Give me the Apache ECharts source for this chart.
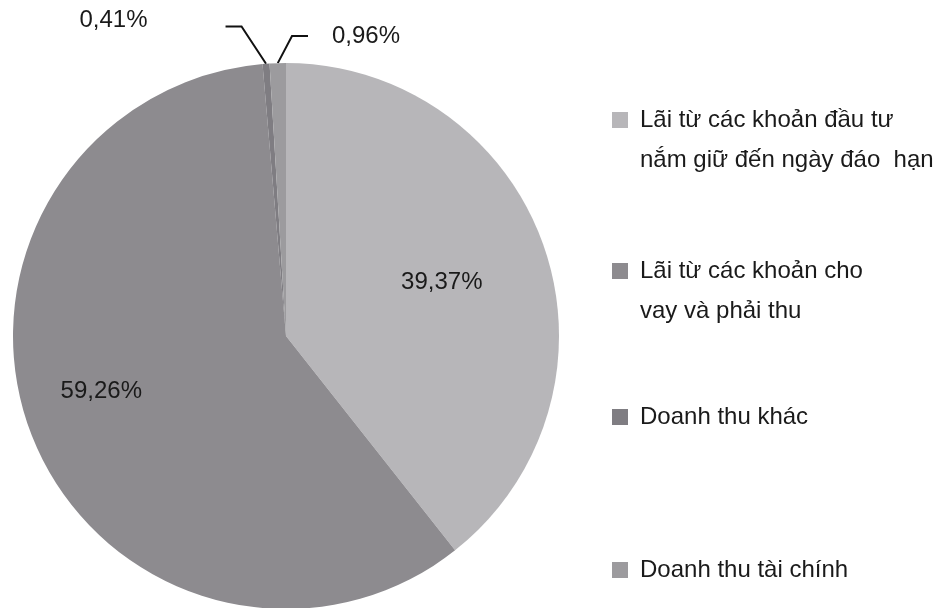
<!DOCTYPE html>
<html>
<head>
<meta charset="utf-8">
<script src="https://cdn.jsdelivr.net/npm/echarts@6/dist/echarts.min.js"></script>
<style>
  html, body { margin: 0; padding: 0; background: #ffffff; }
  #chart { width: 942px; height: 608px; }
</style>
</head>
<body>
<div id="chart"></div>
<script>
// ---- data ----
var categories = [
  'Lãi từ các khoản đầu tư\nnắm giữ đến ngày đáo  hạn',
  'Lãi từ các khoản cho\nvay và phải thu',
  'Doanh thu khác',
  'Doanh thu tài chính'
];
var shares = [39.37, 59.26, 0.41, 0.96];
var sliceColors = ['#b7b6b9', '#8d8b8f', '#7f7d82', '#9c9b9e'];

var FONT = '"Liberation Sans", Arial, Helvetica, sans-serif';

function fmt(v) { return v.toFixed(2).replace('.', ',') + '%'; }

var pieData = shares.map(function (v, i) {
  var item = { value: v, name: categories[i], itemStyle: { color: sliceColors[i] } };
  if (i >= 2) {
    item.label = {
      show: true,
      position: 'outside',
      backgroundColor: 'transparent',
      lineHeight: i === 2 ? 12 : 24,
      padding: i === 2 ? [0, 78, 0, 0] : [0, 0, 0, 24]
    };
    item.labelLine = { show: true, length: 20, length2: 16, lineStyle: { color: '#111', width: 2 } };
  }
  return item;
});

function makeLegend(idx, top, twoLine) {
  return {
    data: [categories[idx]],
    orient: 'vertical',
    left: 612,
    top: top,
    padding: 0,
    itemWidth: 16,
    itemHeight: 16,
    icon: 'rect',
    selectedMode: false,
    formatter: function (name) { return twoLine ? '\n' + name : name; },
    textStyle: {
      fontFamily: FONT,
      fontSize: 24,
      color: '#1a1a1a',
      lineHeight: 40,
      backgroundColor: 'transparent',
      padding: [0, 0, 0, 7]
    }
  };
}

var chart = echarts.init(document.getElementById('chart'), null, { renderer: 'canvas' });
chart.setOption({
  backgroundColor: '#ffffff',
  animation: false,
  legend: [
    makeLegend(0, 60, true),
    makeLegend(1, 211, true),
    makeLegend(2, 397, false),
    makeLegend(3, 550, false)
  ],
  series: [{
    type: 'pie',
    center: [286, 336],
    radius: 273,
    startAngle: 90,
    clockwise: true,
    avoidLabelOverlap: false,
    itemStyle: { borderWidth: 0 },
    emphasis: { disabled: true },
    label: {
      show: true,
      position: 'inside',
      fontFamily: FONT,
      fontSize: 24,
      color: '#1a1a1a',
      formatter: function (p) { return fmt(p.value) + (p.dataIndex === 2 ? '\n' : ''); }
    },
    labelLine: { show: false },
    labelLayout: function (p) {
      if (p.dataIndex === 0) return { dx: 24, dy: -8 };
      if (p.dataIndex === 1) return { dx: -55, dy: 4 };
      if (p.dataIndex === 2) return { x: p.rect.x - 37, y: p.rect.y - 37, align: 'right', verticalAlign: 'middle' };
      if (p.dataIndex === 3) return { x: p.rect.x + p.rect.width + 22, y: p.rect.y - 27, align: 'left', verticalAlign: 'middle' };
      return {};
    },
    data: pieData
  }]
});
</script>
</body>
</html>
